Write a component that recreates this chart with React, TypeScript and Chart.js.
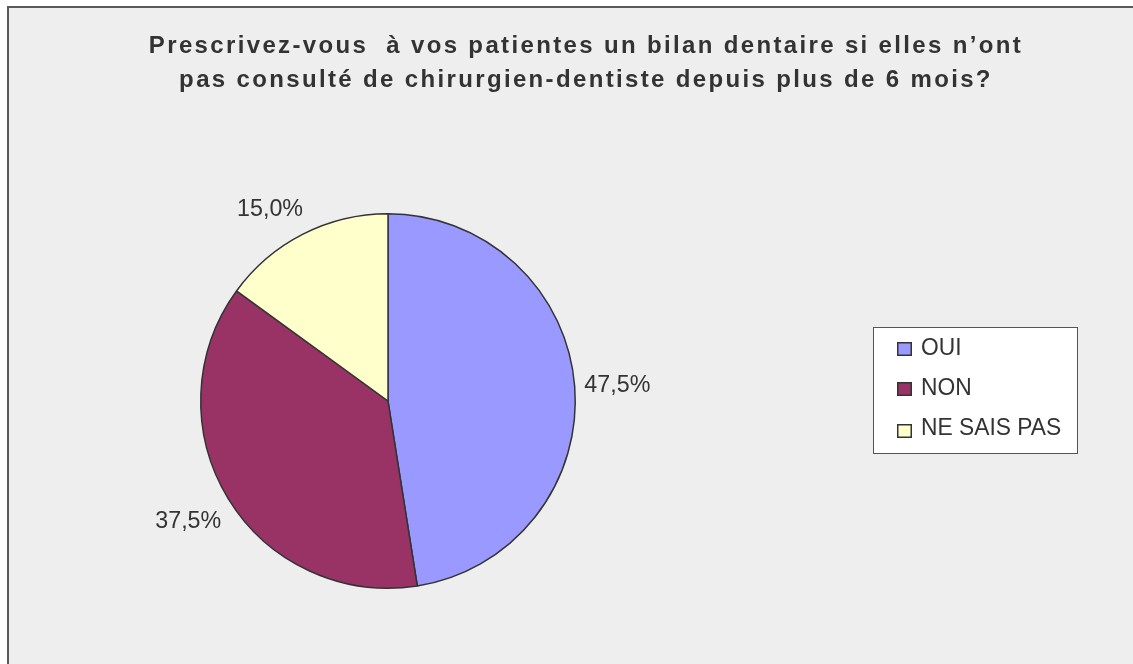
import React, { useEffect, useRef } from "react";
import { Chart, registerables } from "chart.js";

Chart.register(...registerables);

const titleLines = [
  "Prescrivez-vous  à vos patientes un bilan dentaire si elles n’ont",
  "pas consulté de chirurgien-dentiste depuis plus de 6 mois?",
];
const categories = ["OUI", "NON", "NE SAIS PAS"];
const values = [47.5, 37.5, 15.0];
const colors = ["#9999ff", "#993366", "#ffffcc"];

const fmt = (v: number) => v.toFixed(1).replace(".", ",") + "%";

function drawScaled(ctx: any, text: string, x: number, y: number, sx: number, align: string) {
  ctx.save();
  ctx.translate(x, y);
  ctx.scale(sx, 1);
  ctx.textAlign = align;
  ctx.fillText(text, 0, 0);
  ctx.restore();
}

const decorPlugin = {
  id: "decor",
  beforeDraw(chart: any) {
    const ctx = chart.ctx;
    ctx.save();
    ctx.fillStyle = "#ffffff";
    ctx.fillRect(0, 0, chart.width, chart.height);
    ctx.fillStyle = "#eeeeee";
    ctx.fillRect(7, 6, chart.width, chart.height);
    ctx.fillStyle = "#5a5a5a";
    ctx.fillRect(7, 6, 2, chart.height);
    ctx.fillRect(7, 6, chart.width, 2);
    ctx.restore();
  },
  afterDraw(chart: any) {
    const ctx = chart.ctx;
    ctx.save();
    // title
    ctx.fillStyle = "#333333";
    ctx.font = "bold 24px 'Liberation Sans', Arial, sans-serif";
    (ctx as any).letterSpacing = "2.35px";
    ctx.textAlign = "center";
    ctx.textBaseline = "alphabetic";
    ctx.fillText(titleLines[0], 586, 53);
    ctx.fillText(titleLines[1], 586, 87);
    (ctx as any).letterSpacing = "0px";

    // slice labels (outside end, box pushed away from the pie)
    const meta = chart.getDatasetMeta(0);
    const labelScale = 0.97;
    ctx.font = "24px 'Liberation Sans', Arial, sans-serif";
    meta.data.forEach((arc: any, i: number) => {
      const text = fmt(values[i]);
      const mid = (arc.startAngle + arc.endAngle) / 2;
      const dx = Math.cos(mid);
      const dy = Math.sin(mid);
      const r = arc.outerRadius + 18;
      const hw = (ctx.measureText(text).width * labelScale) / 2;
      const hh = 8.6;
      const sx = Math.sign(dx) * 0.75;
      const sy = Math.max(-1.25, Math.min(1.25, dy * 2.5));
      const cx = arc.x + dx * r + sx * hw;
      const cy = arc.y + dy * r + sy * hh;
      drawScaled(ctx, text, cx, cy + hh, labelScale, "center");
    });

    // legend
    ctx.fillStyle = "#ffffff";
    ctx.fillRect(873, 327, 205, 127);
    ctx.strokeStyle = "#555555";
    ctx.lineWidth = 1;
    ctx.strokeRect(873.5, 327.5, 204, 126);
    const baselines = [355, 395, 435];
    const squares = [342, 382, 424];
    ctx.font = "24px 'Liberation Sans', Arial, sans-serif";
    categories.forEach((c, i) => {
      ctx.fillStyle = colors[i];
      ctx.fillRect(897, squares[i], 15, 14);
      ctx.strokeStyle = "#333333";
      ctx.lineWidth = 1.5;
      ctx.strokeRect(897.75, squares[i] + 0.75, 13.5, 12.5);
      ctx.fillStyle = "#333333";
      drawScaled(ctx, c, 921, baselines[i], 0.95, "left");
    });
    ctx.restore();
  },
};

export default function App() {
  const ref = useRef<HTMLCanvasElement | null>(null);
  useEffect(() => {
    if (!ref.current) return;
    const chart = new Chart(ref.current, {
      type: "pie",
      data: {
        labels: categories,
        datasets: [
          {
            data: values,
            backgroundColor: colors,
            borderColor: "#333333",
            borderWidth: 1.5,
          },
        ],
      },
      options: {
        animation: false,
        responsive: false,
        layout: { padding: { left: 200, right: 557, top: 213, bottom: 75 } },
        plugins: {
          legend: { display: false },
          title: { display: false },
          tooltip: { enabled: false },
        },
      },
      plugins: [decorPlugin],
    });
    return () => chart.destroy();
  }, []);
  return (
    <div style={{ position: "absolute", left: 0, top: 0, width: 1133, height: 664 }}>
      <canvas ref={ref} width={1133} height={664} style={{ display: "block" }} />
    </div>
  );
}
